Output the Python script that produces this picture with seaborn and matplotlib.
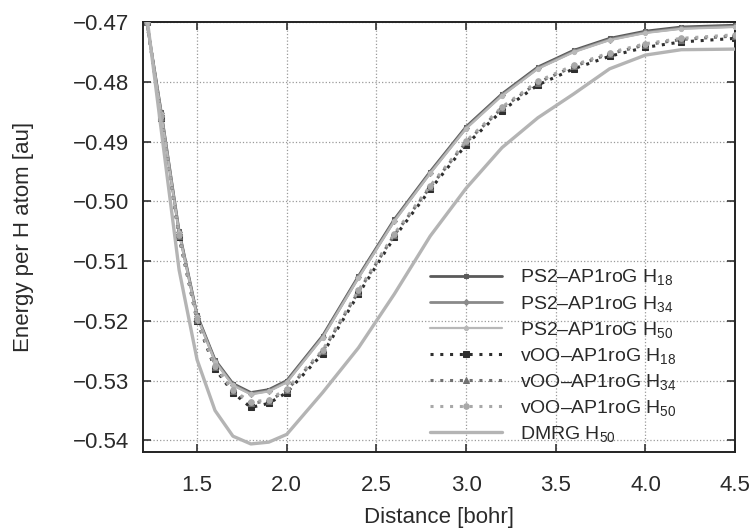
import numpy as np
import pandas as pd
import matplotlib
matplotlib.use("Agg")
from matplotlib import pyplot as plt
import seaborn as sns

# distances (bohr)
dist = [1.22, 1.3, 1.4, 1.5, 1.6, 1.7, 1.8, 1.9, 2.0, 2.2, 2.4, 2.6,
        2.8, 3.0, 3.2, 3.4, 3.6, 3.8, 4.0, 4.2, 4.5]

# energies per H atom (au)
ps2_h18 = [-0.470, -0.485, -0.505, -0.519, -0.5265, -0.5305, -0.5320, -0.5315,
           -0.5300, -0.5225, -0.5125, -0.5030, -0.4950, -0.4875, -0.4820,
           -0.4775, -0.4747, -0.4727, -0.4715, -0.4708, -0.4705]
ps2_h34 = [-0.470, -0.4852, -0.5052, -0.5192, -0.5267, -0.5307, -0.5322, -0.5317,
           -0.5302, -0.5227, -0.5127, -0.5032, -0.4952, -0.4877, -0.4822,
           -0.4777, -0.4749, -0.4729, -0.4717, -0.4710, -0.4707]
ps2_h50 = [-0.470, -0.4853, -0.5053, -0.5193, -0.5268, -0.5308, -0.5323, -0.5318,
           -0.5303, -0.5228, -0.5128, -0.5033, -0.4953, -0.4878, -0.4823,
           -0.4778, -0.4750, -0.4730, -0.4718, -0.4711, -0.4708]
voo_h18 = [-0.470, -0.486, -0.506, -0.520, -0.528, -0.532, -0.5345, -0.5338,
           -0.5320, -0.5255, -0.5155, -0.5060, -0.4980, -0.4905, -0.4848,
           -0.4805, -0.4778, -0.4757, -0.4742, -0.4733, -0.4727]
voo_h34 = [-0.470, -0.4858, -0.5058, -0.5198, -0.5277, -0.5317, -0.5338, -0.5334,
           -0.5316, -0.5251, -0.5151, -0.5056, -0.4976, -0.4901, -0.4844,
           -0.4801, -0.4774, -0.4753, -0.4738, -0.4729, -0.4723]
voo_h50 = [-0.470, -0.4857, -0.5057, -0.5197, -0.5276, -0.5316, -0.5336, -0.5332,
           -0.5314, -0.5249, -0.5149, -0.5054, -0.4974, -0.4899, -0.4842,
           -0.4799, -0.4772, -0.4751, -0.4736, -0.4727, -0.4721]
dmrg_h50 = [-0.469, -0.488, -0.5115, -0.5265, -0.535, -0.5393, -0.5406, -0.5403,
            -0.5390, -0.5320, -0.5245, -0.5155, -0.5058, -0.4978, -0.4910,
            -0.4860, -0.4820, -0.4778, -0.4755, -0.4746, -0.4745]

labels = ["PS2\u2013AP1roG H$_{18}$", "PS2\u2013AP1roG H$_{34}$",
          "PS2\u2013AP1roG H$_{50}$", "vOO\u2013AP1roG H$_{18}$",
          "vOO\u2013AP1roG H$_{34}$", "vOO\u2013AP1roG H$_{50}$",
          "DMRG H$_{50}$"]
series = [ps2_h18, ps2_h34, ps2_h50, voo_h18, voo_h34, voo_h50, dmrg_h50]

# line styles for each curve
styles = [
    dict(color="#5a5a5a", lw=2.0, ls="-", marker="s", ms=3),
    dict(color="#8a8a8a", lw=2.0, ls="-", marker="D", ms=3),
    dict(color="#b8b8b8", lw=1.6, ls="-", marker="o", ms=3),
    dict(color="#2e2e2e", lw=2.2, ls=(0, (1, 2.2)), marker="s", ms=4),
    dict(color="#707070", lw=2.2, ls=(0, (1, 2.2)), marker="^", ms=4),
    dict(color="#a8a8a8", lw=2.2, ls=(0, (1, 2.2)), marker="o", ms=4),
    dict(color="#b4b4b4", lw=2.4, ls="-", marker=None, ms=0),
]

sns.set_style("ticks")
plt.rcParams['font.family'] = ['Liberation Sans', 'DejaVu Sans']
plt.rcParams['mathtext.fontset'] = 'custom'
plt.rcParams['mathtext.rm'] = 'Liberation Sans'
plt.rcParams['mathtext.it'] = 'Liberation Sans'

fig = plt.figure(figsize=(7.54, 5.29), dpi=100)
ax = fig.add_axes([0.19, 0.145, 0.785, 0.813])

for y, lab, st in zip(series, labels, styles):
    df = pd.DataFrame({"Distance": dist, "Energy": y})
    sns.lineplot(data=df, x="Distance", y="Energy", ax=ax, label=lab,
                 color=st["color"], linewidth=st["lw"], linestyle=st["ls"],
                 marker=st["marker"], markersize=st["ms"],
                 markeredgecolor=st["color"], zorder=3)

ax.set_xlim(1.2, 4.5)
ax.set_ylim(-0.542, -0.47)
ax.set_xticks([1.5, 2.0, 2.5, 3.0, 3.5, 4.0, 4.5])
ax.set_yticks([-0.47, -0.48, -0.49, -0.50, -0.51, -0.52, -0.53, -0.54])
ax.set_xticklabels(["1.5", "2.0", "2.5", "3.0", "3.5", "4.0", "4.5"])
ax.set_yticklabels(["\u22120.47", "\u22120.48", "\u22120.49", "\u22120.50",
                    "\u22120.51", "\u22120.52", "\u22120.53", "\u22120.54"])
ax.grid(True, ls=":", color="#9a9a9a", lw=0.9)
ax.tick_params(direction="in", top=True, right=True, length=6, width=1.2,
               labelsize=16, colors="#333333", labelcolor="#2a2a2a", pad=10)
ax.tick_params(axis="x", pad=16)
for sp in ax.spines.values():
    sp.set_linewidth(1.4)
    sp.set_color("#222222")

ax.set_xlabel("Distance [bohr]", fontsize=16, color="#2a2a2a", labelpad=8)
ax.set_ylabel("Energy per H atom [au]", fontsize=16, color="#2a2a2a", labelpad=28)

leg = ax.legend(loc="lower left", bbox_to_anchor=(0.472, 0.002), frameon=False,
                fontsize=14, handlelength=3.7, handletextpad=0.9,
                labelspacing=0.31, borderaxespad=0.0)
for t in leg.get_texts():
    t.set_color("#2a2a2a")

fig.savefig("out.png", dpi=100)
